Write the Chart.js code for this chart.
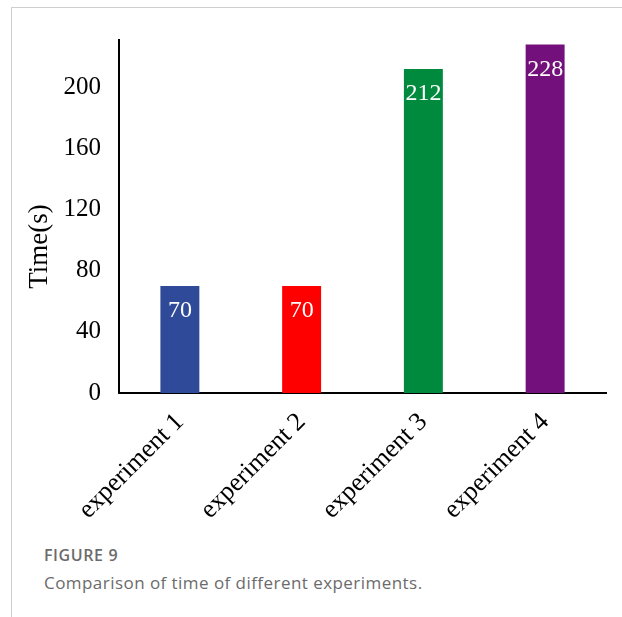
<!DOCTYPE html>
<html>
<head>
<meta charset="utf-8">
<script src="https://cdn.jsdelivr.net/npm/chart.js@4/dist/chart.umd.min.js"></script>
<style>
  body { margin: 0; background: #fff; }
  #frame {
    position: absolute; left: 11px; top: 7px; width: 611px; height: 610px;
    border-left: 1px solid #cfcfcf; border-top: 1px solid #cfcfcf;
  }
  #wrap { position: absolute; left: 0; top: 0; width: 622px; height: 540px; }
  .cap { position: absolute; left: 44px; font-family: "Open Sans", sans-serif; color: #6b6b6b; white-space: nowrap; }
  #figno { top: 544px; font-size: 16px; font-weight: 600; letter-spacing: 0.6px; }
  #figtxt { top: 571px; font-size: 17px; letter-spacing: 0.45px; }
</style>
</head>
<body>
<div id="frame"></div>
<div id="wrap"><canvas id="timeChart"></canvas></div>
<div class="cap" id="figno">FIGURE 9</div>
<div class="cap" id="figtxt">Comparison of time of different experiments.</div>
<script>
var experiments = ["experiment 1", "experiment 2", "experiment 3", "experiment 4"];
var times = [70, 70, 212, 228];
var barColors = ["#2F4A98", "#FF0000", "#008A3E", "#74107B"];
var yTicks = [0, 40, 80, 120, 160, 200];
var yTitle = "Time(s)";

var serif = '"Liberation Serif", "Times New Roman", serif';

// value printed in white near the top of each bar
var barValues = {
  id: 'barValues',
  afterDatasetsDraw: function(chart) {
    var ctx = chart.ctx;
    var meta = chart.getDatasetMeta(0);
    ctx.save();
    ctx.fillStyle = '#fff';
    ctx.font = '24px ' + serif;
    ctx.textAlign = 'center';
    ctx.textBaseline = 'middle';
    meta.data.forEach(function(bar, i) {
      ctx.fillText(chart.data.datasets[0].data[i], bar.x, bar.y + 25);
    });
    ctx.restore();
  }
};

// rotated y axis title, sits a bit below the middle of the axis
var axisTitle = {
  id: 'axisTitle',
  afterDraw: function(chart) {
    var ctx = chart.ctx;
    var y = chart.scales.y;
    ctx.save();
    ctx.translate(40, (y.top + y.bottom) / 2 + 30);
    ctx.rotate(-Math.PI / 2);
    ctx.fillStyle = '#000';
    ctx.font = '27px ' + serif;
    ctx.textAlign = 'center';
    ctx.textBaseline = 'middle';
    ctx.fillText(yTitle, 0, 0);
    ctx.restore();
  }
};

var ctx = document.getElementById("timeChart").getContext('2d');
var chart = new Chart(ctx, {
  type: 'bar',
  data: {
    labels: experiments,
    datasets: [{
      data: times,
      backgroundColor: barColors,
      barPercentage: 0.32,
      categoryPercentage: 1
    }]
  },
  options: {
    responsive: true,
    maintainAspectRatio: false,
    animation: false,
    layout: { padding: { top: 40, right: 16, left: 0, bottom: 0 } },
    plugins: { legend: { display: false }, tooltip: { enabled: false } },
    scales: {
      x: {
        grid: { display: false },
        border: { color: '#000', width: 2 },
        ticks: {
          color: '#000',
          font: { family: serif, size: 26 },
          minRotation: 45, maxRotation: 45, padding: 6
        },
        afterFit: function(scale) { scale.height = 147; }
      },
      y: {
        min: 0, max: 231,
        grid: { display: false, drawTicks: false },
        border: { color: '#000', width: 2 },
        ticks: {
          color: '#000',
          font: { family: serif, size: 25 },
          padding: 18
        },
        afterBuildTicks: function(scale) {
          scale.ticks = yTicks.map(function(v) { return { value: v }; });
        },
        afterFit: function(scale) { scale.width = 119; }
      }
    }
  },
  plugins: [barValues, axisTitle]
});
</script>
</body>
</html>
